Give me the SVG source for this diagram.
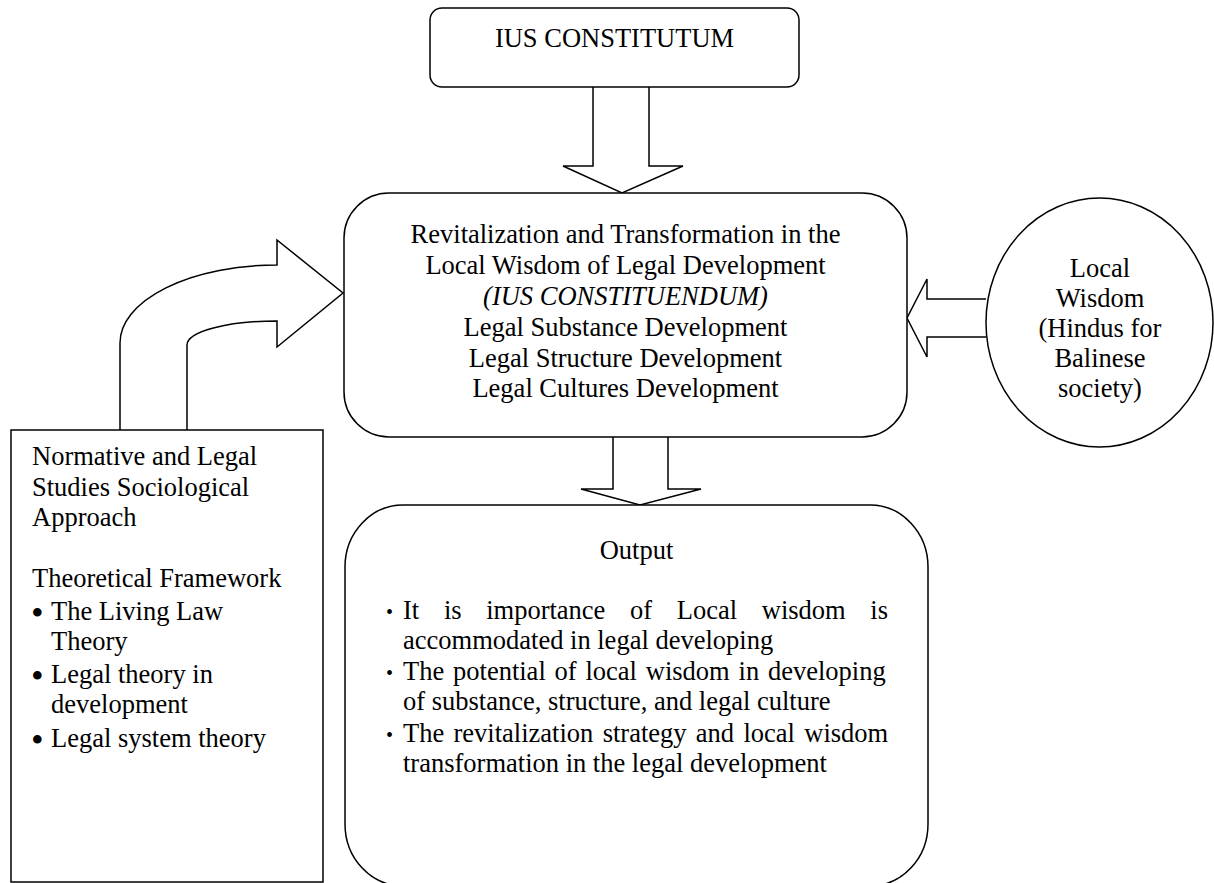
<svg xmlns="http://www.w3.org/2000/svg" width="1214" height="883" viewBox="0 0 1214 883">
<style>
.shape{fill:#ffffff;stroke:#000000;stroke-width:1.5;stroke-linejoin:miter}
.t{font-family:"Liberation Serif","Times New Roman",serif;font-size:26.5px;fill:#000000}
.c{text-anchor:middle}
.b{font-family:"Liberation Serif","Times New Roman",serif;font-size:36px;fill:#000000}
.ob{font-family:"Liberation Serif","Times New Roman",serif;font-size:20px;fill:#000000}
</style>
<rect width="1214" height="883" fill="#ffffff"/>
<g id="connectors">
  <path class="shape" d="M593,87 V166 H563 L622,193 L683,166 H649 V87"/>
  <path class="shape" d="M613,437 V489 H581 L640,505 L701,489 H668 V437"/>
  <path class="shape" d="M986,299 H927 V279 L907,318 L927,357 V337 H986"/>
  <path class="shape" d="M120,430 V343 A157,78 0 0 1 277,265 V240 L343,293 L277,347 V321 A90,24 0 0 0 187,345 V430"/>
</g>
<g id="ius-constitutum">
  <rect class="shape" x="430" y="8" width="369" height="79" rx="12" ry="12"/>
  <text class="t c" x="614.5" y="47">IUS CONSTITUTUM</text>
</g>
<g id="revitalization">
  <rect class="shape" x="344" y="193" width="563" height="244" rx="45" ry="45"/>
  <text class="t c" x="625.5" y="243">Revitalization and Transformation in the</text>
  <text class="t c" x="625.5" y="274">Local Wisdom of Legal Development</text>
  <text class="t c" x="625.5" y="305" font-style="italic">(IUS CONSTITUENDUM)</text>
  <text class="t c" x="625.5" y="336">Legal Substance Development</text>
  <text class="t c" x="625.5" y="366.5">Legal Structure Development</text>
  <text class="t c" x="625.5" y="397">Legal Cultures Development</text>
</g>
<g id="local-wisdom">
  <ellipse class="shape" cx="1099.5" cy="322.5" rx="113.5" ry="124.5"/>
  <text class="t c" x="1100" y="277">Local</text>
  <text class="t c" x="1100" y="307">Wisdom</text>
  <text class="t c" x="1100" y="337">(Hindus for</text>
  <text class="t c" x="1100" y="367">Balinese</text>
  <text class="t c" x="1100" y="397">society)</text>
</g>
<g id="approach">
  <rect class="shape" x="11" y="430" width="312" height="452"/>
  <text class="t" x="32" y="465">Normative and Legal</text>
  <text class="t" x="32" y="496">Studies Sociological</text>
  <text class="t" x="32" y="526">Approach</text>
  <text class="t" x="32" y="587">Theoretical Framework</text>
  <text class="b" x="31" y="625">•</text>
  <text class="t" x="51" y="620">The Living Law</text>
  <text class="t" x="51" y="650">Theory</text>
  <text class="b" x="31" y="688">•</text>
  <text class="t" x="51" y="683">Legal theory in</text>
  <text class="t" x="51" y="713">development</text>
  <text class="b" x="31" y="752">•</text>
  <text class="t" x="51" y="747">Legal system theory</text>
</g>
<g id="output">
  <rect class="shape" x="345" y="505" width="583" height="381" rx="58" ry="62"/>
  <text class="t c" x="636.5" y="559">Output</text>
  <text class="ob" x="386" y="619">•</text>
  <text class="t" y="619"><tspan x="403">It</tspan><tspan x="443.9">is</tspan><tspan x="486.2">importance</tspan><tspan x="630.1">of</tspan><tspan x="676.8">Local</tspan><tspan x="761.8">wisdom</tspan><tspan x="870.3">is</tspan></text>
  <text class="t" x="403" y="649">accommodated in legal developing</text>
  <text class="ob" x="386" y="680">•</text>
  <text class="t" x="403" y="680" word-spacing="2.2">The potential of local wisdom in developing</text>
  <text class="t" x="403" y="710">of substance, structure, and legal culture</text>
  <text class="ob" x="386" y="742">•</text>
  <text class="t" x="403" y="742" word-spacing="2.7">The revitalization strategy and local wisdom</text>
  <text class="t" x="403" y="772">transformation in the legal development</text>
</g>
</svg>
